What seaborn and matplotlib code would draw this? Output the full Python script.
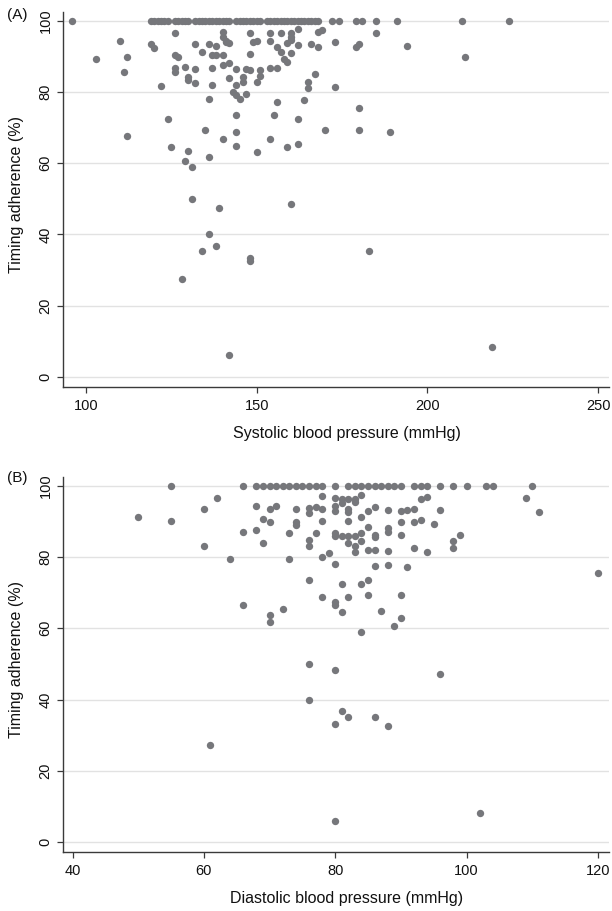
import numpy as np
import pandas as pd
import seaborn as sns
import matplotlib.pyplot as plt

# Panel A: systolic blood pressure vs timing adherence
sys_top = [96, 119, 120, 121, 122, 123, 124, 126, 127, 128, 129, 130, 132, 133, 134,
           135, 136, 137, 138, 139, 140, 141, 142, 144, 145, 146, 147, 148, 149, 150,
           151, 153, 154, 155, 156, 157, 158, 159, 160, 161, 162, 163, 164, 165, 166,
           167, 168, 172, 174, 179, 181, 185, 191, 210, 224]
sys_x = [103, 110, 112, 111, 112, 119, 120, 122, 124, 125, 126, 126, 127, 126, 126,
         129, 130, 130, 132, 132, 132, 134, 136, 138, 137, 138, 140, 140, 140, 141,
         141, 142, 137, 140, 142, 144, 142, 146, 146, 144, 137, 143, 144, 145, 147,
         147, 148, 148, 148, 149, 150, 151, 151, 150, 136, 144, 135, 144, 140, 144,
         150, 136, 130, 129, 131, 131, 154, 157, 160, 154, 156, 157, 158, 159, 160,
         160, 159, 162, 160, 162, 154, 156, 156, 155, 154, 159, 162, 162, 164, 165,
         165, 166, 168, 169, 168, 173, 179, 180, 185, 194, 211, 167, 173, 180, 170,
         180, 189, 139, 160, 136, 138, 134, 148, 148, 128, 142, 183, 219]
sys_y = [89.2, 94.3, 89.9, 85.7, 67.7, 93.4, 92.2, 81.6, 72.5, 64.6, 96.4, 90.3, 89.8, 86.6, 85.6,
         87.1, 84.3, 83.3, 82.4, 86.3, 93.3, 91.1, 93.5, 93.0, 90.4, 90.4, 90.4, 96.9, 95.3, 94.4,
         93.9, 93.6, 86.6, 87.6, 88.0, 86.3, 83.8, 84.1, 82.9, 82.0, 82.0, 80.1, 79.1, 78.0, 79.4,
         86.4, 86.0, 90.6, 96.4, 94.1, 94.4, 86.2, 84.5, 82.9, 77.9, 73.4, 69.3, 68.6, 66.7, 64.9,
         63.0, 61.8, 63.4, 60.6, 59.0, 50.0, 96.6, 96.6, 96.4, 94.3, 92.7, 91.3, 89.2, 88.5, 95.3,
         94.6, 93.6, 93.2, 90.8, 97.7, 86.6, 86.6, 77.2, 73.4, 66.7, 64.6, 65.4, 72.5, 77.7, 82.9,
         81.0, 93.4, 96.7, 97.4, 92.7, 94.1, 92.5, 93.4, 96.4, 93.0, 89.7, 84.9, 81.3, 75.6, 69.3,
         69.3, 68.8, 47.4, 48.4, 40.1, 36.8, 35.3, 33.3, 32.6, 27.5, 6.1, 35.3, 8.3]

# Panel B: diastolic blood pressure vs timing adherence
dia_top = [55, 66, 68, 69, 70, 71, 72, 73, 74, 75, 76, 77, 78, 80, 82, 83, 84, 85, 86,
           87, 88, 89, 90, 92, 93, 94, 96, 98, 100, 103, 104, 110]
dia_x = [50, 55, 60, 60, 62, 64, 66, 66, 68, 69, 70, 68, 69, 70, 71, 70, 70, 72, 73, 73,
         74, 74, 74, 76, 77, 78, 76, 78, 80, 81, 82, 83, 84, 80, 80, 81, 82, 82, 83, 85,
         78, 82, 84, 85, 77, 80, 80, 81, 82, 83, 84, 76, 76, 82, 83, 83, 84, 85, 78, 79,
         80, 76, 81, 84, 85, 85, 78, 80, 80, 82, 81, 84, 86, 88, 90, 91, 92, 93, 94, 96,
         90, 92, 93, 95, 88, 88, 86, 86, 90, 86, 88, 92, 94, 98, 99, 98, 86, 88, 91, 90,
         87, 90, 89, 120, 109, 111, 76, 80, 96, 76, 81, 82, 86, 80, 88, 61, 80, 102]
dia_y = [91.1, 90.2, 93.4, 83.2, 96.6, 79.4, 87.1, 66.6, 94.3, 90.6, 89.9, 87.5, 83.9, 93.4, 94.4, 63.7, 61.8, 65.5, 86.7, 79.4,
         93.4, 89.9, 89.1, 93.7, 94.1, 93.4, 92.3, 97.0, 96.6, 96.3, 96.3, 96.3, 97.5, 94.4, 92.8, 95.1, 93.5, 92.5, 95.3, 93.0,
         90.2, 90.2, 91.1, 88.5, 86.7, 86.7, 85.8, 85.9, 85.9, 85.9, 86.7, 84.8, 83.0, 83.9, 83.0, 81.5, 84.5, 82.0, 79.9, 81.0,
         78.0, 73.5, 72.4, 72.4, 73.5, 69.3, 68.8, 67.5, 66.6, 68.7, 64.5, 59.0, 94.1, 93.3, 93.0, 93.3, 93.5, 96.3, 96.9, 93.3,
         89.9, 89.7, 90.5, 89.2, 88.1, 86.9, 86.2, 85.6, 86.2, 82.0, 81.8, 82.4, 81.3, 84.6, 86.2, 82.4, 77.6, 77.8, 77.1, 69.3,
         64.9, 62.9, 60.7, 75.5, 96.5, 92.7, 50.0, 48.3, 47.3, 39.9, 36.7, 35.2, 35.2, 33.3, 32.6, 27.4, 6.1, 8.3]

df_a = pd.DataFrame({"bp": sys_top + sys_x, "adh": [100.0] * len(sys_top) + sys_y})
df_b = pd.DataFrame({"bp": dia_top + dia_x, "adh": [100.0] * len(dia_top) + dia_y})

sns.set_style("ticks")
plt.rcParams['font.family'] = ['Liberation Sans', 'DejaVu Sans']

dot_color = '#76777b'
fig = plt.figure(figsize=(6.12, 9.11), dpi=100)
ax_a = fig.add_axes([0.1025, 0.5752, 0.8926, 0.4120])
ax_b = fig.add_axes([0.1025, 0.0645, 0.8926, 0.4122])

panels = [
    (ax_a, df_a, 'Systolic blood pressure (mmHg)', (93.2, 253.2), [100, 150, 200, 250], '(A)', 0.983, -0.105),
    (ax_b, df_b, 'Diastolic blood pressure (mmHg)', (38.5, 121.7), [40, 60, 80, 100, 120], '(B)', 0.4755, -0.102),
]

for ax, df, xlab, xlim, xticks, tag, ty, xly in panels:
    sns.scatterplot(data=df, x="bp", y="adh", ax=ax, color=dot_color, s=28,
                    linewidth=0, alpha=1, zorder=3)
    ax.set_xlim(*xlim)
    ax.set_ylim(-2.8, 102.5)
    ax.set_xticks(xticks)
    ax.set_yticks([0, 20, 40, 60, 80, 100])
    ax.yaxis.grid(True, color='#e2e2e2', linewidth=1.0)
    ax.xaxis.grid(False)
    ax.set_axisbelow(True)
    for side in ['top', 'right']:
        ax.spines[side].set_visible(False)
    for side in ['left', 'bottom']:
        ax.spines[side].set_color('#3a3a3a')
        ax.spines[side].set_linewidth(1.0)
    ax.tick_params(axis='both', length=4.3, width=0.9, color='#3a3a3a',
                   labelsize=10.5, labelcolor='#111111')
    ax.tick_params(axis='x', pad=4)
    ax.tick_params(axis='y', pad=3)
    for lab in ax.get_yticklabels():
        lab.set_rotation(90)
        lab.set_va('center')
    ax.set_xlabel(xlab, fontsize=11.5, color='#111111')
    ax.set_ylabel('Timing adherence (%)', fontsize=11.5, color='#111111')
    ax.xaxis.set_label_coords(0.52, xly)
    ax.yaxis.set_label_coords(-0.071, 0.514)
    fig.text(0.012, ty, tag, fontsize=11, color='#111111', va='center', ha='left')

fig.savefig('out.png', dpi=100)
